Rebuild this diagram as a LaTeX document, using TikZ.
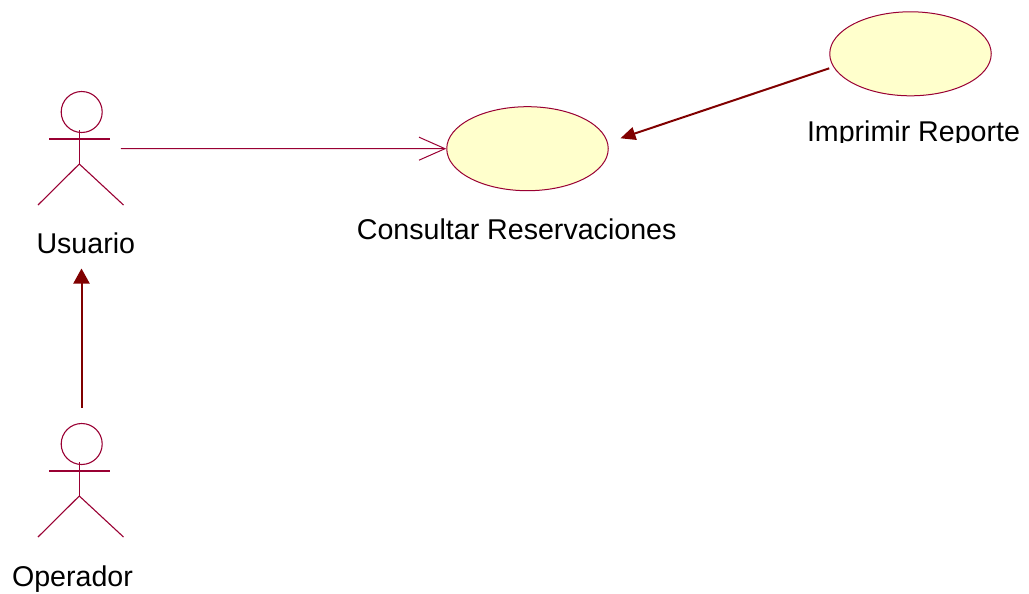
\documentclass[tikz,border=0pt]{standalone}
\usepackage{fontspec}
\setmainfont{Liberation Sans}
\usetikzlibrary{shapes.geometric,arrows.meta,calc}
\definecolor{roseline}{RGB}{153,0,51}
\definecolor{rosearrow}{RGB}{128,0,0}
\definecolor{rosefill}{RGB}{255,255,204}
\tikzset{
  usecase/.style={ellipse, draw=roseline, fill=rosefill, line width=1pt, inner sep=0pt, minimum width=161.5pt, minimum height=84pt},
  actorbox/.style={inner sep=0pt, minimum width=78.4pt, minimum height=113pt},
  actorline/.style={draw=roseline, line width=1.1pt},
  lbl/.style={inner sep=0pt, anchor=base, font=\fontsize{28.6}{34}\selectfont},
  assoc/.style={draw=roseline, line width=1pt, -{Straight Barb[length=26pt,width=23pt,line width=1pt]}},
  incl/.style={draw=rosearrow, line width=2pt, -{Triangle[length=15pt,width=13pt]}},
  gen/.style={draw=rosearrow, line width=2pt, -{Triangle[length=15pt,width=16pt]}}
}
\newcommand{\actorfigure}[1]{%
  \begin{scope}[shift={(#1.center)}]
    \draw[actorline] (0.2,-36.5) circle[radius=20.5pt];
    \draw[actorline] (-32.2,-9.5) -- (28.5,-9.5);
    \draw[actorline] (-2.2,-18.5) -- (-2.2,15.5);
    \draw[actorline] (-43.5,56.5) -- (-2.2,15.5) -- (42,56.5);
  \end{scope}}
\begin{document}
\begin{tikzpicture}[x=1pt,y=-1pt]
\useasboundingbox (0,0) rectangle (1029,594);
% actors
\node[actorbox] (usuario) at (81.5,148.5) {};
\node[actorbox] (operador) at (81.5,480.5) {};
\actorfigure{usuario}
\actorfigure{operador}
\node[lbl] (usuariolbl) at (85.8,253.3) {Usuario};
\node[lbl] (operadorlbl) at (72.5,586.7) {Operador};
% use cases
\node[usecase] (consultar) at (527.5,148.7) {};
\node[usecase] (imprimir) at (910.5,53.8) {};
\node[lbl] (consultarlbl) at (516.7,239) {Consultar Reservaciones};
\begin{scope}
  \clip (780,100) rectangle (1029,142.3);
  \node[lbl] (imprimirlbl) at (913.5,142) {Imprimir Reporte};
\end{scope}
% connectors
\draw[assoc] (usuario.east) -- (consultar.west);
\draw[incl] ([yshift=-14.5pt]imprimir.west) -- ([xshift=11.7pt,yshift=10.4pt]consultar.east);
\draw[gen] ([yshift=16pt]operador.north) -- ([yshift=-63.3pt]usuario.south);
\end{tikzpicture}
\end{document}
